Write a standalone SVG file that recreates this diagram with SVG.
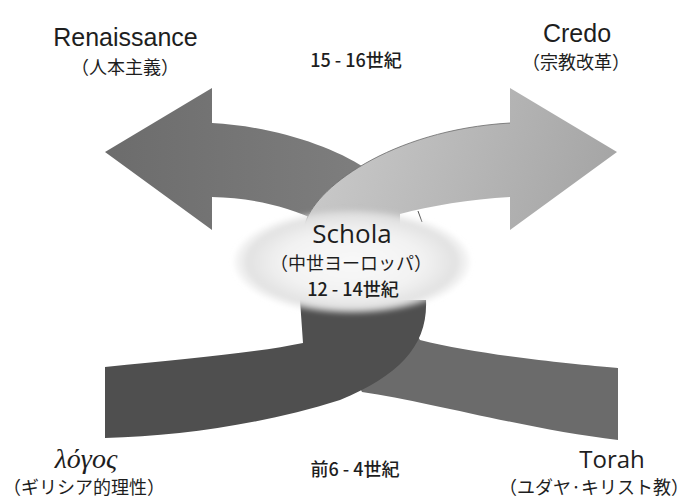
<svg xmlns="http://www.w3.org/2000/svg" width="692" height="503" viewBox="0 0 692 503">
<defs>
<linearGradient id="gL" x1="0" y1="0" x2="1" y2="0"><stop offset="0" stop-color="#6c6c6c"/><stop offset="1" stop-color="#7e7e7e"/></linearGradient>
<linearGradient id="gR" x1="0" y1="0" x2="1" y2="0.2"><stop offset="0" stop-color="#cdcdcd"/><stop offset="1" stop-color="#a6a6a6"/></linearGradient>
<radialGradient id="gB" cx="0.5" cy="0.5" r="0.5"><stop offset="0" stop-color="#f9f9f9"/><stop offset="0.6" stop-color="#f2f2f2"/><stop offset="0.88" stop-color="#e2e2e2"/><stop offset="1" stop-color="#e8e8e8" stop-opacity="0.3"/></radialGradient>
<filter id="blur" x="-20%" y="-20%" width="140%" height="140%"><feGaussianBlur stdDeviation="2.5"/></filter>
<style>
.lat{font-family:"Liberation Sans",Arial,sans-serif;fill:#1e1e1e;text-anchor:middle;font-size:25px}
.hum{font-family:"Open Sans","DejaVu Sans",sans-serif;fill:#1e1e1e;text-anchor:middle}
.jp{font-family:"Noto Sans CJK JP",sans-serif;fill:#1e1e1e;text-anchor:middle;font-size:18px}
.era{font-family:"Noto Sans CJK JP",sans-serif;fill:#1e1e1e;text-anchor:middle;font-size:18px;font-weight:500}
.gr{font-family:"Liberation Serif",serif;font-style:italic;fill:#1e1e1e;text-anchor:middle}
</style>
</defs>
<rect width="692" height="503" fill="#ffffff"/>
<g id="connectors">
<path id="torah-band" d="M618,368 C570,364 480,355 420,340 L400,305 L330,330 L362,392 C430,402 530,430 618,440 Z" fill="#6b6b6b"/>
<path id="logos-band" d="M105,367 C190,359 260,352 303,343 L300,300 L426,300 C428,345 400,375 340,400 C260,425 180,436 105,438 Z" fill="#4f4f4f"/>
<path id="renaissance-arrow" d="M212,88 L105,152 L212,230 L212,197 C250,198 285,205 320,222 L365,168 C330,145 270,126 212,123 Z" fill="url(#gL)"/>
<path id="credo-arrow" d="M510,88 L617,152 L510,230 L510,197 C470,199 430,206 400,214 L400,300 L300,300 L305,225 C312,190 390,130 510,123 Z" fill="url(#gR)"/>
<path d="M305,225 C312,190 390,130 510,123" fill="none" stroke="#6a6a6a" stroke-width="0.8"/>
<path d="M418,211 L422,222" fill="none" stroke="#555" stroke-width="1"/>
</g>
<g id="schola">
<ellipse cx="352" cy="262" rx="118" ry="52" fill="url(#gB)" filter="url(#blur)"/>
<text class="hum" x="352" y="243" font-size="26">Schola</text>
<text class="jp" x="351" y="270">（中世ヨーロッパ）</text>
<text class="era" x="353" y="296">12 - 14世紀</text>
</g>
<g id="renaissance">
<text class="lat" x="125.5" y="46">Renaissance</text>
<text class="jp" x="125" y="74">（人本主義）</text>
</g>
<g id="era-top"><text class="era" x="356" y="67">15 - 16世紀</text></g>
<g id="credo">
<text class="lat" x="577" y="42">Credo</text>
<text class="jp" x="576" y="69">（宗教改革）</text>
</g>
<g id="logos">
<text class="gr" x="86" y="468" font-size="28">λόγος</text>
<text class="jp" x="84" y="494" font-size="17">（ギリシア的理性）</text>
</g>
<g id="era-bottom"><text class="era" x="355" y="476">前6 - 4世紀</text></g>
<g id="torah">
<text class="hum" x="612" y="468" font-size="24">Torah</text>
<text class="jp" x="594" y="494" font-size="16.5">（ユダヤ·キリスト教）</text>
</g>
</svg>
